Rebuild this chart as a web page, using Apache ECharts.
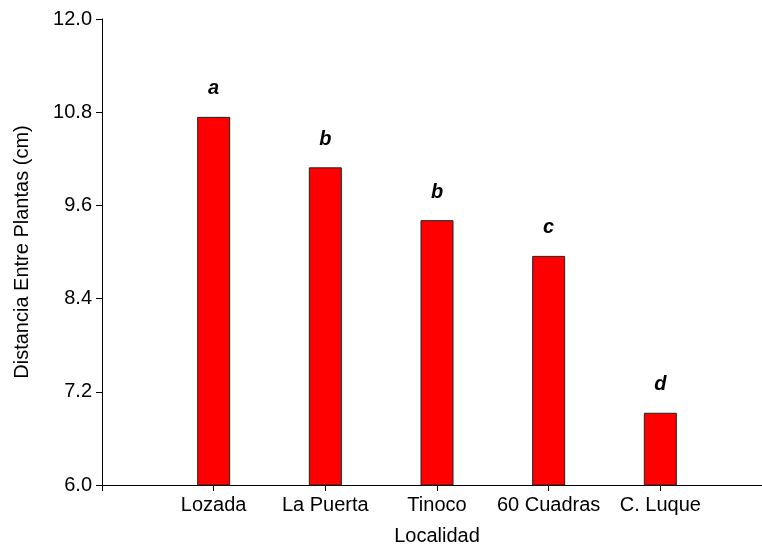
<!DOCTYPE html>
<html>
<head>
<meta charset="utf-8">
<script src="https://cdn.jsdelivr.net/npm/echarts@6/dist/echarts.min.js"></script>
<style>
  html, body { margin: 0; padding: 0; background: #fff; }
  #chart { width: 762px; height: 546px; }
</style>
</head>
<body>
<div id="chart"></div>
<script>
// padded with empty slots at both ends so ticks land where the original has them
const localidades = ['', 'Lozada', 'La Puerta', 'Tinoco', '60 Cuadras', 'C. Luque', ''];
const distancia = ['-', 10.74, 10.09, 9.41, 8.95, 6.93, '-'];
const letras = ['', 'a', 'b', 'b', 'c', 'd', ''];

const font = 'Liberation Sans, Arial, sans-serif';

let chart = echarts.init(document.getElementById('chart'));
chart.setOption({
    animation: false,
    grid: { left: 102, width: 670, top: 19, bottom: 61, outerBoundsMode: 'none', containLabel: false },
    xAxis: {
        type: 'category',
        data: localidades,
        boundaryGap: false,
        name: 'Localidad',
        nameLocation: 'middle',
        nameGap: 41,
        nameTextStyle: { fontFamily: font, fontSize: 20, color: '#000' },
        axisLine: { lineStyle: { color: '#000', width: 1 } },
        axisTick: {
            length: 6,
            interval: (i) => i < localidades.length - 1,
            lineStyle: { color: '#000' }
        },
        axisLabel: { fontFamily: font, fontSize: 20, color: '#000', margin: 10, interval: 0 },
        splitLine: { show: false }
    },
    yAxis: {
        type: 'value',
        min: 6,
        max: 12,
        interval: 1.2,
        name: 'Distancia Entre Plantas (cm)',
        nameLocation: 'middle',
        nameGap: 70,
        nameTextStyle: { fontFamily: font, fontSize: 20, color: '#000' },
        axisLine: { show: true, lineStyle: { color: '#000', width: 1 } },
        axisTick: { show: true, length: 6, lineStyle: { color: '#000' } },
        axisLabel: {
            fontFamily: font, fontSize: 20, color: '#000', margin: 10,
            formatter: v => v.toFixed(1)
        },
        splitLine: { show: false }
    },
    series: [{
        type: 'bar',
        data: distancia,
        barWidth: 33,
        itemStyle: { color: '#ff0000', borderColor: '#222', borderWidth: 1 },
        label: {
            show: true,
            position: 'top',
            distance: 18,
            fontFamily: font,
            fontSize: 20,
            fontWeight: 'bold',
            fontStyle: 'italic',
            color: '#000',
            formatter: p => letras[p.dataIndex]
        }
    }]
});
</script>
</body>
</html>
